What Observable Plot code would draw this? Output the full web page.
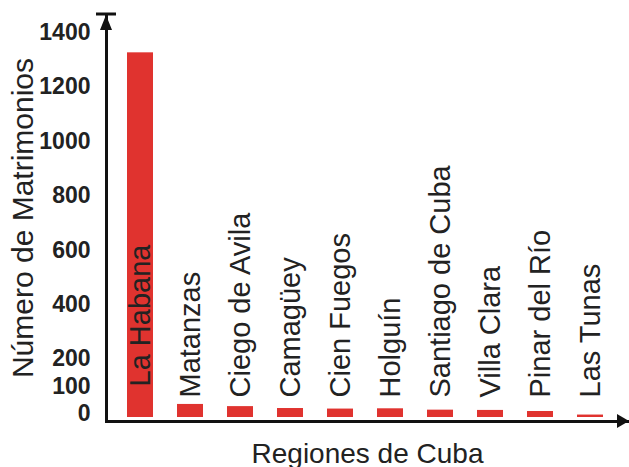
<!DOCTYPE html>
<html><head><meta charset="utf-8">
<script src="https://cdn.jsdelivr.net/npm/d3@7"></script>
<script src="https://cdn.jsdelivr.net/npm/@observablehq/plot@0.6"></script>
<style>body{margin:0;background:#fff}</style>
</head><body><div id="chart"></div>
<script>
const regiones = ["La Habana","Matanzas","Ciego de Avila","Camagüey","Cien Fuegos","Holguín","Santiago de Cuba","Villa Clara","Pinar del Río","Las Tunas"];
const matrimonios = [1340,48,40,33,31,32,27,26,22,9];
const yTicks = [0,100,200,400,600,800,1000,1200,1400];
const yTitle = "Número de Matrimonios";
const xTitle = "Regiones de Cuba";

const data = regiones.map((r, i) => ({region: r, valor: matrimonios[i]}));
const font = "'Liberation Sans', Arial, Helvetica, sans-serif";

const chart = Plot.plot({
  width: 629, height: 467,
  marginLeft: 106, marginRight: 1, marginTop: 14, marginBottom: 46,
  style: {fontFamily: font, background: "#fff", overflow: "visible"},
  x: {domain: regiones, paddingInner: 0.484, paddingOuter: 0.377, insetRight: 4, axis: null},
  y: {domain: [0, 1400], insetTop: 22, insetBottom: 4, axis: null},
  marks: [
    Plot.barY(data, {x: "region", y: "valor", fill: "#e0332f"}),
    Plot.axisY(yTicks, {tickSize: 0, tickPadding: 16, tickFormat: d => String(d), fontSize: 23, fontWeight: "bold", fill: "#222", dy: -4, label: null}),
    Plot.frame({anchor: "left", strokeWidth: 3, stroke: "#111"}),
    Plot.frame({anchor: "bottom", strokeWidth: 3, stroke: "#111"}),
    Plot.text(data.filter((d, i) => i > 0), {x: "region", y: 0, text: "region", rotate: -90, textAnchor: "start", lineAnchor: "middle", dy: -20, fontSize: 29, fill: "#222"}),
    Plot.text(data.filter((d, i) => i === 0), {x: "region", y: 0, text: "region", rotate: -90, textAnchor: "start", lineAnchor: "middle", dy: -31, fontSize: 29, fill: "#222"}),
    Plot.text([yTitle], {frameAnchor: "left", textAnchor: "middle", rotate: -90, dx: -83, fontSize: 30, fill: "#222", lineAnchor: "middle"}),
    Plot.text([xTitle], {frameAnchor: "bottom", lineAnchor: "bottom", dy: 41, fontSize: 28, fill: "#222"})
  ]
});
document.getElementById("chart").appendChild(chart);

// arrowheads at the ends of the axis lines
const svg = d3.select(chart);
const L = 106, T = 14, B = 467 - 46, R = 629 - 1;
svg.append("line").attr("x1", L - 10).attr("x2", L + 10).attr("y1", T).attr("y2", T)
  .attr("stroke", "#111").attr("stroke-width", 3);
svg.append("path").attr("d", `M${L - 6},${T + 16}L${L},${T + 1}L${L + 6},${T + 16}Z`).attr("fill", "#111");
svg.append("path").attr("d", `M${R - 11},${B - 7}L${R + 1},${B}L${R - 11},${B + 7}Z`).attr("fill", "#111");
</script>
</body></html>
